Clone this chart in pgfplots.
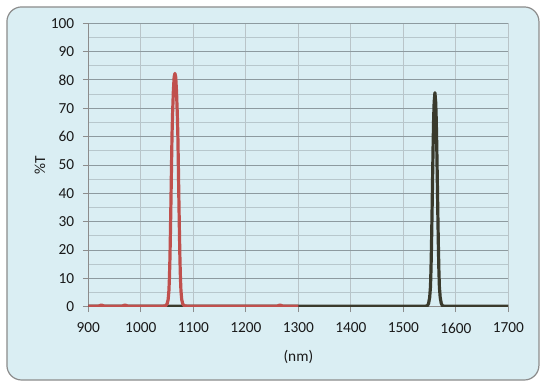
\documentclass[border=0pt]{standalone}
\usepackage{pgfplots}
\pgfplotsset{compat=1.18}
\usepackage{fontspec}
\setmainfont{Carlito}
\definecolor{bgblue}{HTML}{DAEEF3}
\definecolor{framegray}{HTML}{8C8C8C}
\definecolor{majgrid}{HTML}{8D9A9F}
\definecolor{mingrid}{HTML}{B7C7CC}
\definecolor{vgrid}{HTML}{B9C4C8}
\definecolor{redline}{HTML}{C0504D}
\definecolor{darkline}{HTML}{3A3A2C}
\pgfplotstableread{
x y
900 0.2
1300 0.2
1500 0.2
1543 0.2
1546 0.4
1548 1.2
1550 3.3
1551.5 7
1552.5 13
1553.5 22
1554.5 33
1555.5 45
1556.5 56.5
1557.5 66
1558.5 72
1560 75.5
1561.5 72
1562.5 66
1563.5 56.5
1564.5 45
1565.5 33
1566.5 22
1567.5 13
1568.5 7
1570 3.3
1572 1.2
1574 0.4
1577 0.2
1700 0.2
}\darkdata
\pgfplotstableread{
x y
900 0.2
920 0.2
925 0.6
930 0.2
965 0.2
970 0.6
975 0.2
1043 0.2
1047 0.3
1050 0.9
1052 2.4
1053.5 5.5
1054.5 10
1055.5 17
1056.5 27
1057.5 38
1058.5 50
1059.5 61
1060.5 68
1062 76
1063.5 81
1065 82.3
1066.5 81
1068 76
1069.5 68
1070.5 61
1071.5 50
1072.5 38
1073.5 27
1074.5 17
1075.5 10
1076.5 5.5
1078 2.4
1080 0.9
1083 0.3
1087 0.2
1260 0.2
1265 0.6
1270 0.2
1300 0.2
}\reddata
\begin{document}
\begin{tikzpicture}
\path (-66.2pt,-59.5pt) rectangle (343.3pt,230pt);
\filldraw[fill=bgblue, draw=framegray, line width=0.9pt, rounded corners=11pt] (-61pt,-55pt) rectangle (338pt,224.8pt);
\begin{axis}[
  scale only axis,
  width=315.15pt, height=212.55pt,
  xmin=900, xmax=1700, ymin=0, ymax=100,
  xtick={900,1000,...,1700},
  ytick={0,10,...,100},
  minor y tick num=1,
  axis x line*=bottom, axis y line*=left,
  axis line style={-, framegray, line width=0.8pt},
  tick align=outside,
  major tick length=4pt,
  minor tick length=0pt,
  tick style={framegray, line width=0.7pt},
  xmajorgrids, ymajorgrids, yminorgrids,
  major x grid style={vgrid, line width=0.7pt},
  major y grid style={majgrid, line width=0.7pt},
  minor y grid style={mingrid, line width=0.7pt},
  /pgf/number format/assume math mode=true,
  /pgf/number format/1000 sep={},
  ticklabel style={font=\fontsize{11.5}{13}\selectfont, text=black!90},
  x tick label style={yshift=-4.5pt},
  y tick label style={xshift=-3pt},
  label style={font=\fontsize{11.5}{13}\selectfont, text=black!90},
  xlabel={(nm)},
  ylabel={\%T},
  xlabel style={at={(axis description cs:0.5,-0.1775)}, anchor=center},
  ylabel style={at={(axis description cs:-0.115,0.5)}, anchor=center},
  clip=true,
]
\addplot[darkline, line width=2.4pt, line join=round] table[x=x,y=y] {\darkdata};
\addplot[redline, line width=2.4pt, line join=round] table[x=x,y=y] {\reddata};
\end{axis}
\end{tikzpicture}
\end{document}
